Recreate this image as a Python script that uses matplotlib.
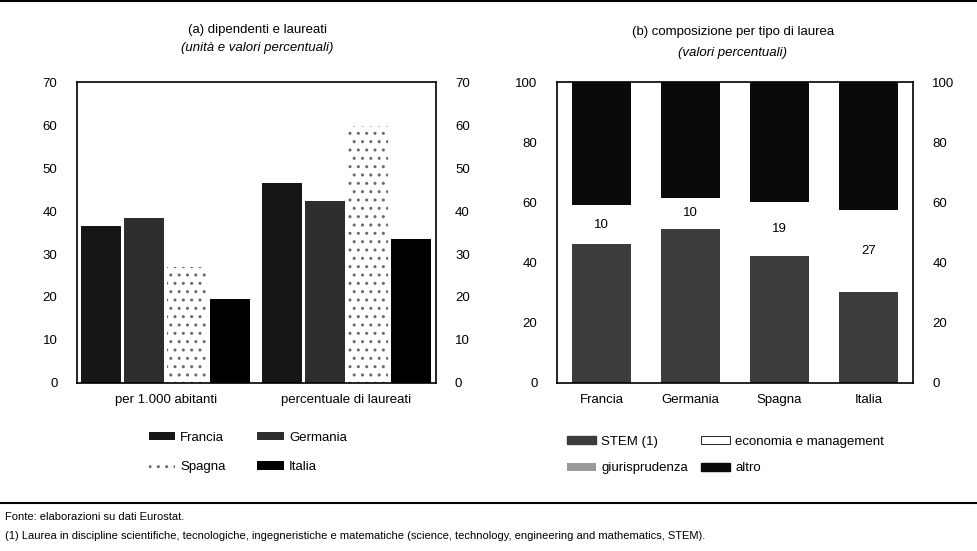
import numpy as np
import matplotlib
matplotlib.use('Agg')
import matplotlib.pyplot as plt
from matplotlib.patches import Patch

plt.rcParams['font.family'] = ['Liberation Sans', 'DejaVu Sans']
plt.rcParams['hatch.linewidth'] = 1.0

# panel (a): dipendenti e laureati
groups_a = ['per 1.000 abitanti', 'percentuale di laureati']
countries = ['Francia', 'Germania', 'Spagna', 'Italia']
francia = [36.6, 46.6]
germania = [38.3, 42.4]
spagna = [27.0, 59.8]
italia = [19.5, 33.6]

# panel (b): composizione per tipo di laurea
stem = [46.2, 51.2, 42.2, 30.2]
economia = [12.9, 10.3, 17.9, 27.3]
economia_labels = ['10', '10', '19', '27']
altro = [40.9, 38.5, 39.9, 42.5]

W, H = 977, 551
fig = plt.figure(figsize=(W / 100, H / 100), dpi=100)

def fy(py):
    # pixel row -> figure fraction
    return 1 - py / H

# rules at top and above the notes
fig.add_artist(plt.Line2D([0, 1], [0.998, 0.998], color='black', lw=1.5))
fig.add_artist(plt.Line2D([0, 1], [fy(503), fy(503)], color='black', lw=1.5))

ax1 = fig.add_axes([0.0788, 0.305, 0.367, 0.546])
ax2 = fig.add_axes([0.570, 0.305, 0.3645, 0.546])

# ---- panel a ----
styles = [
    dict(color='#161616'),
    dict(color='#2e2e2e'),
    dict(facecolor='white', hatch='..', edgecolor='#6a6a6a', linewidth=0),
    dict(color='black'),
]
series_a = [francia, germania, spagna, italia]
centers = np.array([0.0, 4.2])
offsets = [-1.5, -0.5, 0.5, 1.5]
handles_a = []
for name, vals, off, st in zip(countries, series_a, offsets, styles):
    b = ax1.bar(centers + off, vals, width=0.93, label=name, **st)
    handles_a.append(b)
ax1.set_xlim(-2.07, 6.28)
ax1.set_ylim(0, 70)
ax1.set_yticks(range(0, 71, 10))
ax1.set_xticks(centers)
ax1.set_xticklabels(groups_a)
ax1.tick_params(axis='both', length=0, labelsize=9.5, pad=8)
ax1.tick_params(axis='y', labelright=True, pad=14)
for s in ax1.spines.values():
    s.set_linewidth(1.2)

fig.text(257 / W, fy(30), '(a) dipendenti e laureati', ha='center', va='center', fontsize=9.5)
fig.text(257 / W, fy(48), '(unità e valori percentuali)', ha='center', va='center',
         fontsize=9.5, style='italic')

# ---- panel b ----
x = np.arange(len(countries))
ax2.bar(x, stem, width=0.66, color='#3c3c3c', label='STEM (1)')
ax2.bar(x, economia, width=0.66, bottom=stem, color='white', label='economia e management')
bottom2 = np.array(stem) + np.array(economia)
ax2.bar(x, altro, width=0.66, bottom=bottom2, color='#0a0a0a', label='altro')
for xi, s, e, lab in zip(x, stem, economia, economia_labels):
    ax2.text(xi, s + e / 2, lab, ha='center', va='center', fontsize=9.5)
ax2.set_xlim(-0.5, 3.5)
ax2.set_ylim(0, 100)
ax2.set_yticks(range(0, 101, 20))
ax2.set_xticks(x)
ax2.set_xticklabels(countries)
ax2.tick_params(axis='both', length=0, labelsize=9.5, pad=8)
ax2.tick_params(axis='y', labelright=True, pad=14)
for s in ax2.spines.values():
    s.set_linewidth(1.2)

fig.text(733 / W, fy(32), '(b) composizione per tipo di laurea', ha='center', va='center', fontsize=9.5)
fig.text(733 / W, fy(53), '(valori percentuali)', ha='center', va='center',
         fontsize=9.5, style='italic')

# legends (row-wise order: column-major fill)
order_a = [0, 2, 1, 3]
fig.legend(handles=[handles_a[i] for i in order_a], labels=[countries[i] for i in order_a],
           ncol=2, loc='upper left', bbox_to_anchor=(0.140, fy(420)), frameon=False,
           fontsize=9.5, handlelength=2.0, handleheight=0.6, columnspacing=2.4,
           labelspacing=1.3, handletextpad=0.4)
h_b = [Patch(color='#3c3c3c'), Patch(facecolor='#9a9a9a'),
       Patch(facecolor='white', edgecolor='black', lw=0.6), Patch(color='#0a0a0a')]
l_b = ['STEM (1)', 'giurisprudenza', 'economia e management', 'altro']
fig.legend(handles=h_b, labels=l_b, ncol=2, loc='upper left',
           bbox_to_anchor=(0.568, fy(424)), frameon=False, fontsize=9.5,
           handlelength=2.2, handleheight=0.6, columnspacing=1.0, labelspacing=1.1,
           handletextpad=0.4)

# notes
fig.text(0.005, fy(517), 'Fonte: elaborazioni su dati Eurostat.', fontsize=8, va='center')
fig.text(0.005, fy(536),
         '(1) Laurea in discipline scientifiche, tecnologiche, ingegneristiche e matematiche '
         '(science, technology, engineering and mathematics, STEM).',
         fontsize=8, va='center')

fig.savefig('out.png', dpi=100)
